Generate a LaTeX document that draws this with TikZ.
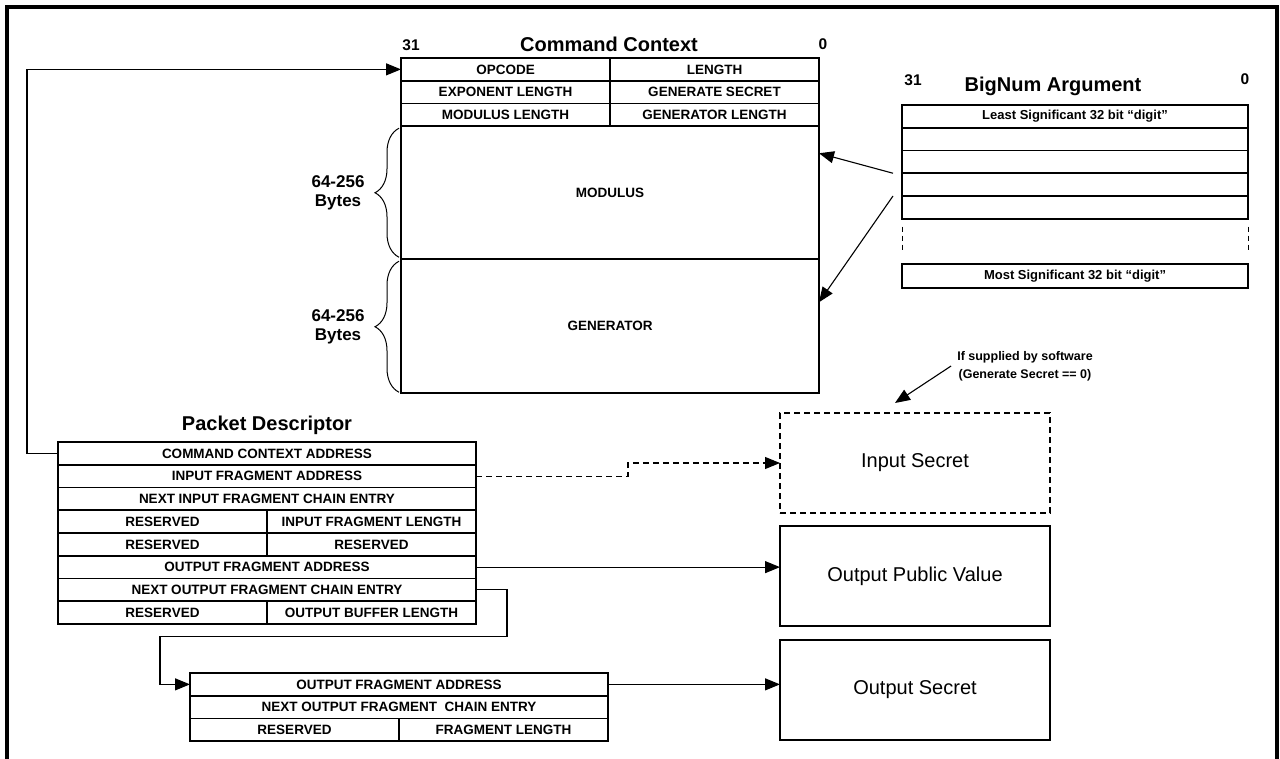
\documentclass[tikz,border=0pt]{standalone}
\usepackage{fontspec}
\setmainfont{Liberation Sans}
\usetikzlibrary{positioning,arrows.meta,decorations.pathreplacing}

\newcommand{\cellfont}{\fontsize{13.5}{14}\selectfont\bfseries}
\newcommand{\titlefont}{\fontsize{20}{22}\selectfont\bfseries}

\tikzset{
  cell/.style={draw, line width=1.8pt, inner sep=0pt, outer sep=0pt, minimum height=22.75pt, font=\cellfont},
  full/.style={cell, minimum width=418pt},
  half/.style={cell, minimum width=209pt},
  digit/.style={cell, minimum width=346pt, font=\fontsize{13}{14}\selectfont\bfseries},
  bigbox/.style={draw, line width=1.6pt, outer sep=0pt, minimum width=270pt, minimum height=100pt, font=\fontsize{20}{24}\selectfont},
  title/.style={font=\titlefont, inner sep=0pt},
  bit/.style={font=\fontsize{15.5}{16}\selectfont\bfseries, inner sep=0pt},
  bytes/.style={font=\fontsize{17}{19}\selectfont\bfseries, align=center, inner sep=0pt},
  hint/.style={font=\fontsize{12.5}{18}\selectfont\bfseries, align=center, inner sep=0pt},
  link/.style={line width=1.1pt, -{Triangle[length=15pt,width=12pt]}},
  dashline/.style={dash pattern=on 6pt off 4pt},
  brace/.style={decorate, decoration={brace, amplitude=24pt}, line width=1pt}
}

\begin{document}
\begin{tikzpicture}[x=1pt, y=-1pt]
  \useasboundingbox (0,0) rectangle (1280,759);
  \draw[line width=4pt] (7,759) -- (7,7) -- (1277,7) -- (1277,759);

  % Command Context
  \node[title] (cctitle) at (609,44) {Command Context}; %
  \node[bit] (cchi) at (411,45) {31}; %
  \node[bit] (cclo) at (823,44) {0}; %
  \node[half, anchor=north west] (ccop) at (401,58) {OPCODE}; %
  \node[half, right=0pt of ccop] (cclen) {LENGTH}; %
  \node[half, below=0pt of ccop] (ccexp) {EXPONENT LENGTH}; %
  \node[half, right=0pt of ccexp] (ccsecret) {GENERATE SECRET}; %
  \node[half, below=0pt of ccexp] (ccmodlen) {MODULUS LENGTH}; %
  \node[half, right=0pt of ccmodlen] (ccgenlen) {GENERATOR LENGTH}; %
  \node[full, minimum height=133pt, below=0pt of ccmodlen.south east] (ccmod) {MODULUS}; %
  \node[full, minimum height=134pt, below=0pt of ccmod] (ccgen) {GENERATOR}; %
  \draw[brace] ([xshift=-2pt,yshift=2pt]ccmod.south west) -- ([xshift=-2pt,yshift=-2pt]ccmod.north west)
    node[midway, left=34pt, bytes] {64-256\\Bytes}; %
  \draw[brace] ([xshift=-2pt,yshift=1pt]ccgen.south west) -- ([xshift=-2pt,yshift=-2pt]ccgen.north west)
    node[midway, left=34pt, bytes] {64-256\\Bytes}; %

  % BigNum Argument
  \node[title] (bntitle) at (1053,86) {BigNum Argument}; %
  \node[bit] (bnhi) at (913,80) {31}; %
  \node[bit] (bnlo) at (1245,79) {0}; %
  \node[digit, anchor=north west] (bn1) at (902,105) {Least Significant 32 bit “digit”}; %
  \node[digit, below=0pt of bn1] (bn2) {}; %
  \node[digit, below=0pt of bn2] (bn3) {}; %
  \node[digit, below=0pt of bn3] (bn4) {}; %
  \node[digit, below=0pt of bn4] (bn5) {}; %
  \node[digit, minimum height=24pt, below=45pt of bn5] (bn6) {Most Significant 32 bit “digit”}; %
  \draw[line width=1pt, dash pattern=on 5pt off 4pt] ([yshift=-8pt]bn5.south west) -- ([yshift=11pt]bn6.north west); %
  \draw[line width=1pt, dash pattern=on 5pt off 4pt] ([yshift=-8pt]bn5.south east) -- ([yshift=11pt]bn6.north east); %
  \draw[link] ([xshift=-9pt]bn3.south west) -- ([yshift=-27pt]ccmod.north east); %
  \draw[link] ([xshift=-9pt]bn4.south west) -- ([yshift=-43pt]ccgen.north east); %

  % Packet Descriptor
  \node[title] (pdtitle) at (267,425) {Packet Descriptor}; %
  \node[full, anchor=north west] (pd1) at (58,442) {COMMAND CONTEXT ADDRESS}; %
  \node[full, below=0pt of pd1] (pd2) {INPUT FRAGMENT ADDRESS}; %
  \node[full, below=0pt of pd2] (pd3) {NEXT INPUT FRAGMENT CHAIN ENTRY}; %
  \node[half, anchor=north west] (pd4a) at (pd3.south west) {RESERVED}; %
  \node[half, right=0pt of pd4a] (pd4b) {INPUT FRAGMENT LENGTH}; %
  \node[half, below=0pt of pd4a] (pd5a) {RESERVED}; %
  \node[half, right=0pt of pd5a] (pd5b) {RESERVED}; %
  \node[full, anchor=north west] (pd6) at (pd5a.south west) {OUTPUT FRAGMENT ADDRESS}; %
  \node[full, below=0pt of pd6] (pd7) {NEXT OUTPUT FRAGMENT CHAIN ENTRY}; %
  \node[half, anchor=north west] (pd8a) at (pd7.south west) {RESERVED}; %
  \node[half, right=0pt of pd8a] (pd8b) {OUTPUT BUFFER LENGTH}; %

  % Output fragment chain entry
  \node[full, anchor=north west] (of1) at (190,673) {OUTPUT FRAGMENT ADDRESS}; %
  \node[full, below=0pt of of1] (of2) {NEXT OUTPUT FRAGMENT \ CHAIN ENTRY}; %
  \node[half, anchor=north west] (of3a) at (of2.south west) {RESERVED}; %
  \node[half, right=0pt of of3a] (of3b) {FRAGMENT LENGTH}; %

  % Results
  \node[bigbox, dashline, anchor=north west] (insec) at (780,413) {Input Secret}; %
  \node[bigbox, below=13pt of insec] (outpub) {Output Public Value}; %
  \node[bigbox, below=14pt of outpub] (outsec) {Output Secret}; %
  \node[hint] (supplied) at (1025,366) {If supplied by software\\(Generate Secret == 0)}; %
  \draw[link] ([xshift=-6pt]supplied.west) -- ([xshift=-20pt,yshift=10pt]insec.north); %

  % Edges
  \draw[link] (pd1.west) -- ++(-31,0) |- (ccop.west); %
  \draw[link, dashline] (pd2.east) -- ++(152,0) |- (insec.west); %
  \draw[link] (pd6.east) -- (pd6.east -| outpub.west); %
  \draw[link] (pd7.east) -| ++(31,47) -| ([xshift=-30pt]of1.west) -- (of1.west); %
  \draw[link] (of1.east) -- (of1.east -| outsec.west); %
\end{tikzpicture}
\end{document}
